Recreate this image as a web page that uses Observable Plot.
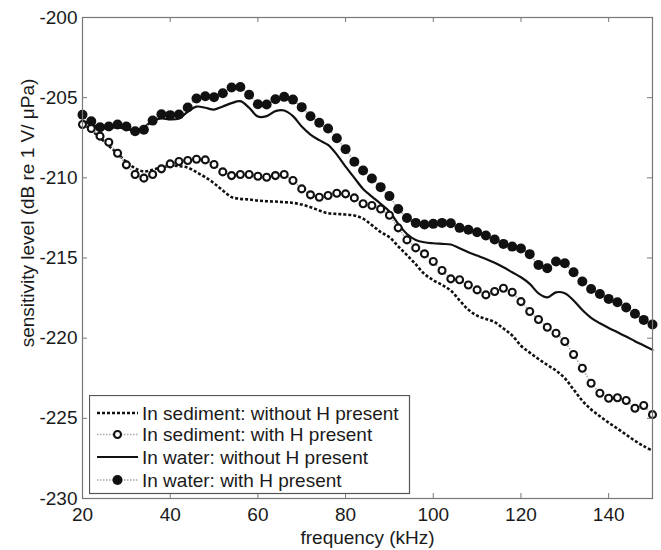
<!DOCTYPE html>
<html>
<head>
<meta charset="utf-8">
<script src="https://cdn.jsdelivr.net/npm/d3@7"></script>
<script src="https://cdn.jsdelivr.net/npm/@observablehq/plot@0.6"></script>
<style>
  body { margin: 0; background: #fff; font-family: "Liberation Sans", Arial, sans-serif; }
  #wrap { position: relative; width: 661px; height: 550px; }
  #legend { position: absolute; left: 89px; top: 395px; }
</style>
</head>
<body>
<div id="wrap"></div>
<script>
// ---- data ----
const freq = [20,22,24,26,28,30,32,34,36,38,40,42,44,46,48,50,52,54,56,58,60,62,64,66,68,70,72,74,76,78,80,82,84,86,88,90,92,94,96,98,100,102,104,106,108,110,112,114,116,118,120,122,124,126,128,130,132,134,136,138,140,142,144,146,148,150];

const sedNoH = [-206.6,-207.0,-207.5,-208.0,-208.5,-209.0,-209.4,-209.6,-209.5,-209.35,-209.25,-209.27,-209.36,-209.65,-209.96,-210.34,-210.79,-211.2,-211.31,-211.35,-211.42,-211.46,-211.48,-211.52,-211.56,-211.67,-211.83,-212.04,-212.21,-212.25,-212.29,-212.35,-212.55,-212.95,-213.38,-213.7,-214.27,-214.82,-215.39,-216.0,-216.38,-216.68,-217.03,-217.64,-218.22,-218.6,-218.8,-219.0,-219.4,-219.83,-220.47,-220.9,-221.3,-221.67,-222.02,-222.5,-223.2,-223.9,-224.45,-224.87,-225.27,-225.64,-226.02,-226.4,-226.74,-227.02];

const sedH = [-206.67,-206.92,-207.4,-207.78,-208.47,-209.19,-209.79,-210.02,-209.79,-209.44,-209.13,-208.98,-208.92,-208.84,-208.88,-209.17,-209.63,-209.86,-209.79,-209.79,-209.9,-209.96,-209.86,-209.79,-210.17,-210.69,-211.06,-211.21,-211.1,-210.96,-211.0,-211.25,-211.62,-211.73,-211.94,-212.33,-213.12,-213.87,-214.37,-214.74,-215.22,-215.78,-216.3,-216.36,-216.68,-216.99,-217.3,-217.09,-216.89,-217.14,-217.72,-218.34,-218.84,-219.32,-219.69,-220.21,-221.02,-221.88,-222.81,-223.44,-223.75,-223.72,-223.89,-224.37,-224.2,-224.77];

const waterNoH = [-206.45,-206.65,-206.9,-206.9,-206.85,-206.95,-207.05,-206.85,-206.45,-206.3,-206.36,-206.3,-205.88,-205.56,-205.63,-205.74,-205.55,-205.34,-205.22,-205.63,-206.18,-206.15,-205.84,-205.8,-206.15,-206.8,-207.3,-207.65,-207.95,-208.55,-209.3,-210.0,-210.69,-211.17,-211.62,-212.1,-212.87,-213.5,-213.87,-214.02,-214.08,-214.12,-214.16,-214.39,-214.64,-214.85,-215.06,-215.3,-215.58,-215.89,-216.2,-216.61,-217.2,-217.45,-217.14,-217.2,-217.65,-218.24,-218.73,-219.07,-219.36,-219.63,-219.9,-220.19,-220.46,-220.73];

const waterH = [-206.07,-206.47,-206.84,-206.8,-206.67,-206.8,-207.09,-207.0,-206.43,-206.03,-206.09,-206.05,-205.61,-205.05,-204.91,-204.97,-204.72,-204.37,-204.33,-204.82,-205.41,-205.43,-205.1,-204.95,-205.12,-205.59,-206.16,-206.57,-206.92,-207.53,-208.21,-209.0,-209.54,-210.04,-210.58,-211.14,-211.94,-212.5,-212.81,-212.91,-212.87,-212.81,-212.83,-213.12,-213.24,-213.39,-213.6,-213.85,-214.12,-214.29,-214.41,-214.76,-215.43,-215.64,-215.22,-215.33,-215.89,-216.47,-216.93,-217.24,-217.55,-217.76,-218.09,-218.48,-218.86,-219.15];

const seriesLabels = [
  "In sediment: without H present",
  "In sediment: with H present",
  "In water: without H present",
  "In water: with H present"
];
const xTicks = [20,40,60,80,100,120,140];
const yTicks = [-230,-225,-220,-215,-210,-205,-200];
const xLabel = "frequency (kHz)";
const yLabel = "sensitivity level (dB re 1 V/ \u03bcPa)";

// ---- chart ----
const rows = vals => freq.map((f, i) => ({f, v: vals[i]}));
const ink = "#111";
const axisGray = "#777";
const txt = "#1a1a1a";
const fs = 19;
const W = 661, H = 550, mL = 82, mR = 9, mT = 17, mB = 52;
const innerW = W - mL - mR, innerH = H - mT - mB, tk = 5;

const chart = Plot.plot({
  width: W, height: H,
  marginLeft: mL, marginRight: mR, marginTop: mT, marginBottom: mB,
  style: {fontFamily: "Liberation Sans, Arial, sans-serif", fontSize: fs + "px", color: txt, background: "white"},
  x: {domain: [20, 150], label: null},
  y: {domain: [-230, -200], label: null},
  marks: [
    Plot.line(rows(sedNoH), {x: "f", y: "v", stroke: ink, strokeWidth: 2.6, strokeDasharray: "3,2", strokeLinecap: "butt", curve: "catmull-rom"}),
    Plot.line(rows(waterNoH), {x: "f", y: "v", stroke: ink, strokeWidth: 2.2, curve: "catmull-rom"}),
    Plot.line(rows(sedH), {x: "f", y: "v", stroke: "#aaa", strokeWidth: 1.6, strokeDasharray: "1.5,1.5", strokeLinecap: "butt"}),
    Plot.line(rows(waterH), {x: "f", y: "v", stroke: "#aaa", strokeWidth: 1.6, strokeDasharray: "1.5,1.5", strokeLinecap: "butt"}),
    Plot.dot(rows(sedH), {x: "f", y: "v", r: 3.5, stroke: ink, strokeWidth: 2.1, fill: "white"}),
    Plot.dot(rows(waterH), {x: "f", y: "v", r: 5, fill: ink, stroke: "none"}),
    Plot.frame({stroke: axisGray, strokeWidth: 1.2}),
    Plot.tickY(yTicks, {y: d => d, stroke: axisGray, insetRight: innerW - tk}),
    Plot.tickY(yTicks, {y: d => d, stroke: axisGray, insetLeft: innerW - tk}),
    Plot.tickX(xTicks, {x: d => d, stroke: axisGray, insetBottom: innerH - tk}),
    Plot.tickX(xTicks, {x: d => d, stroke: axisGray, insetTop: innerH - tk}),
    Plot.axisY(yTicks, {tickSize: 0, tickPadding: 5, tickFormat: d => String(d), fontSize: fs, label: null}),
    Plot.axisX(xTicks, {tickSize: 0, tickPadding: 9, tickFormat: d => String(d), fontSize: fs, label: null}),
    Plot.text([xLabel], {frameAnchor: "bottom", dy: 39, lineAnchor: "middle", textAnchor: "middle", fontSize: fs, fill: txt}),
    Plot.text([yLabel], {frameAnchor: "left", dx: -55, dy: -45, rotate: -90, textAnchor: "middle", lineAnchor: "middle", fontSize: fs, fill: txt})
  ]
});
const wrap = document.getElementById("wrap");
wrap.appendChild(chart);

// ---- legend (inside the plot area) ----
const lw = 320, lh = 98;
const leg = d3.select(wrap).append("svg").attr("id", "legend")
  .attr("width", lw + 2).attr("height", lh + 2);
leg.append("rect").attr("x", 0.5).attr("y", 0.5).attr("width", lw).attr("height", lh)
  .attr("fill", "white").attr("stroke", "#555").attr("stroke-width", 1.2);
const rowY = [18, 39.5, 62, 85];
const styles = [
  {stroke: ink, sw: 2.6, dash: "3,2", marker: null},
  {stroke: "#aaa", sw: 1.6, dash: "1.5,1.5", marker: "open"},
  {stroke: ink, sw: 2.2, dash: null, marker: null},
  {stroke: "#aaa", sw: 1.6, dash: "1.5,1.5", marker: "filled"}
];
seriesLabels.forEach((lab, i) => {
  const y = rowY[i], s = styles[i];
  const ln = leg.append("line").attr("x1", 8).attr("x2", 49).attr("y1", y).attr("y2", y)
    .attr("stroke", s.stroke).attr("stroke-width", s.sw);
  if (s.dash) ln.attr("stroke-dasharray", s.dash);
  if (s.marker === "open") leg.append("circle").attr("cx", 28.5).attr("cy", y).attr("r", 3.5)
    .attr("fill", "white").attr("stroke", ink).attr("stroke-width", 2.1);
  if (s.marker === "filled") leg.append("circle").attr("cx", 28.5).attr("cy", y).attr("r", 5).attr("fill", ink);
  leg.append("text").attr("x", 53).attr("y", y).attr("dy", "0.35em")
    .attr("font-size", fs).attr("fill", txt)
    .attr("font-family", "Liberation Sans, Arial, sans-serif").text(lab);
});
</script>
</body>
</html>
